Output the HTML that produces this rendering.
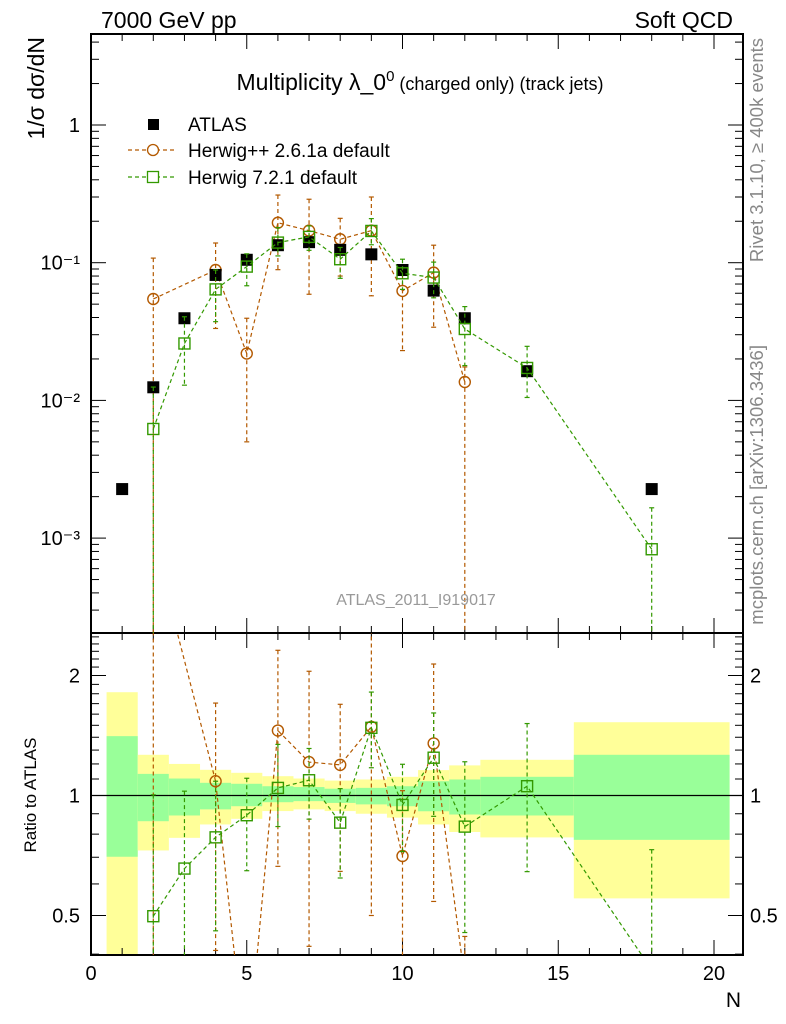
<!DOCTYPE html>
<html><head><meta charset="utf-8"><style>
body{margin:0;background:#fff;}
svg{display:block;font-family:"Liberation Sans",sans-serif;}
</style></head><body>
<svg id="chart" width="786" height="1024" viewBox="0 0 786 1024" xmlns="http://www.w3.org/2000/svg">
<defs>
<clipPath id="clipMain"><rect x="91" y="34" width="652" height="599"/></clipPath>
<clipPath id="clipRatio"><rect x="91" y="633" width="652" height="322"/></clipPath>
</defs>
<g id="bands" clip-path="url(#clipRatio)"></g>
<g id="axes"></g>
<g id="mainData" clip-path="url(#clipMain)"></g>
<g id="ratioData" clip-path="url(#clipRatio)"></g>
<text x="101" y="28" font-size="23">7000 GeV pp</text>
<text x="733" y="28" font-size="23" text-anchor="end">Soft QCD</text>
<text x="420" y="90" font-size="23" text-anchor="middle">Multiplicity λ_0<tspan font-size="15" dy="-9">0</tspan><tspan font-size="18" dy="9"> (charged only) (track jets)</tspan></text>
<text transform="translate(44,37) rotate(-90)" font-size="23" text-anchor="end">1/σ dσ/dN</text>
<text transform="translate(36,795) rotate(-90)" font-size="17" text-anchor="middle">Ratio to ATLAS</text>
<text x="741" y="1007" font-size="21" text-anchor="end">N</text>
<text transform="translate(763,38) rotate(-90)" font-size="18.5" fill="#888" text-anchor="end">Rivet 3.1.10, ≥ 400k events</text>
<text transform="translate(763,345) rotate(-90)" font-size="18.5" fill="#888" text-anchor="end">mcplots.cern.ch [arXiv:1306.3436]</text>
<text x="416" y="605" font-size="16" fill="#999" text-anchor="middle">ATLAS_2011_I919017</text>
<g>
<rect x="148" y="119" width="11" height="11" fill="#000"/>
<text x="188" y="131" font-size="19">ATLAS</text>
<line x1="128" y1="150" x2="175" y2="150" stroke="#b35900" stroke-width="1.2" stroke-dasharray="4,3"/>
<circle cx="153" cy="150" r="5.5" fill="#fff" stroke="#b35900" stroke-width="1.3"/>
<text x="188" y="157" font-size="19">Herwig++ 2.6.1a default</text>
<line x1="128" y1="177" x2="175" y2="177" stroke="#339900" stroke-width="1.2" stroke-dasharray="4,3"/>
<rect x="147.5" y="171.5" width="11" height="11" fill="#fff" stroke="#339900" stroke-width="1.3"/>
<text x="188" y="184" font-size="19">Herwig 7.2.1 default</text>
</g>
</svg>
<script>
const atlasN=[1,2,3,4,5,6,7,8,9,10,11,12,14,18];
const atlasVal=[0.00227,0.01245,0.0395,0.0815,0.105,0.134,0.141,0.124,0.115,0.0885,0.0627,0.0395,0.0163,0.00227];
const binLo=[0.5,1.5,2.5,3.5,4.5,5.5,6.5,7.5,8.5,9.5,10.5,11.5,12.5,15.5];
const binHi=[1.5,2.5,3.5,4.5,5.5,6.5,7.5,8.5,9.5,10.5,11.5,12.5,15.5,20.5];
const yellowUp=[1.816,1.265,1.2,1.16,1.14,1.118,1.103,1.09,1.097,1.114,1.158,1.19,1.229,1.527];
const yellowDn=[0.3,0.728,0.783,0.846,0.874,0.914,0.923,0.914,0.9,0.88,0.846,0.81,0.785,0.552];
const greenUp=[1.409,1.133,1.103,1.076,1.07,1.055,1.05,1.04,1.045,1.055,1.086,1.097,1.114,1.265];
const greenDn=[0.702,0.862,0.891,0.923,0.94,0.962,0.968,0.958,0.95,0.94,0.913,0.896,0.891,0.774];
const hppN=[2,4,5,6,7,8,9,10,11,12];
const hppVal=[0.0545,0.0885,0.0219,0.195,0.171,0.148,0.171,0.0624,0.0847,0.0136];
const hppUp=[0.108,0.139,0.0395,0.31,0.289,0.21,0.3,0.091,0.134,0.0175];
const hppDn=[0,0.0333,0.005,0.089,0.059,0.08,0.0575,0.023,0.034,0];
const h7N=[2,3,4,5,6,7,8,9,10,11,12,14,18];
const h7Val=[0.0062,0.0259,0.064,0.0937,0.14,0.154,0.106,0.17,0.0838,0.078,0.033,0.0172,0.00083];
const h7Up=[0.0125,0.0405,0.0885,0.116,0.18,0.185,0.129,0.209,0.106,0.101,0.048,0.0247,0.00166];
const h7Dn=[0,0.0129,0.0373,0.068,0.112,0.123,0.077,0.135,0.064,0.0556,0.0179,0.0105,0];
const xTickLabels=[0,5,10,15,20];
const mainTickLabels=["10⁻³","10⁻²","10⁻¹","1"];
const ratioTickVals=[0.5,1,2];

const NS="http://www.w3.org/2000/svg";
const X0=91,X1=743,MT=34,MB=633,RB=955;
function xs(v){return 91+v*31.15;}
function ym(v){return v<=0?2000:125-137.7*Math.log10(v);}
function yr(v){return v<=0?2000:795.5-120*Math.log2(v);}
function el(tag,attrs,parent){const e=document.createElementNS(NS,tag);for(const k in attrs)e.setAttribute(k,attrs[k]);parent.appendChild(e);return e;}
const axes=document.getElementById('axes'),bands=document.getElementById('bands'),md=document.getElementById('mainData'),rd=document.getElementById('ratioData');

for(let i=0;i<binLo.length;i++){
  const y=el('rect',{x:xs(binLo[i]),width:xs(binHi[i])-xs(binLo[i]),y:yr(yellowUp[i]),height:yr(yellowDn[i])-yr(yellowUp[i]),fill:'#ffff99'},bands);
  
  
  const g=el('rect',{x:xs(binLo[i]),width:xs(binHi[i])-xs(binLo[i]),y:yr(greenUp[i]),height:yr(greenDn[i])-yr(greenUp[i]),fill:'#99ff99'},bands);
  
  
}
el('line',{x1:X0,x2:X1,y1:yr(1),y2:yr(1),stroke:'#000','stroke-width':1.3},bands);

const f1=el('rect',{x:X0,y:MT,width:X1-X0,height:MB-MT,fill:'none',stroke:'#000','stroke-width':2},axes);


const f2=el('rect',{x:X0,y:MB,width:X1-X0,height:RB-MB,fill:'none',stroke:'#000','stroke-width':2},axes);



for(let v=0;v<=20.8;v+=1){
  const major=v%5===0,len=major?15:7,x=xs(v);
  for(const [yb,dir] of [[MB,-1],[MT,1],[RB,-1],[MB,1]]){
    el('line',{x1:x,x2:x,y1:yb,y2:yb+dir*len,stroke:'#000','stroke-width':1},axes);
  }
}
xTickLabels.forEach(v=>{
  const t=el('text',{x:xs(v),y:980,'font-size':20,'text-anchor':'middle'},axes);t.textContent=v;
  
  
});
for(let d=-4;d<=0;d++){
  for(let m=1;m<=9;m++){
    const v=m*Math.pow(10,d),y=ym(v);
    if(y<MT||y>MB)continue;
    const len=m===1?15:8;
    el('line',{x1:X0,x2:X0+len,y1:y,y2:y,stroke:'#000'},axes);
    el('line',{x1:X1,x2:X1-len,y1:y,y2:y,stroke:'#000'},axes);
  }
}
mainTickLabels.forEach((s,i)=>{
  const t=el('text',{x:80,y:ym(Math.pow(10,i-3))+7,'font-size':20,'text-anchor':'end'},axes);
  t.textContent=s;
  
  
});
const rminor=[0.4,0.5,0.6,0.7,0.8,0.9,1,1.1,1.2,1.3,1.4,1.5,1.6,1.7,1.8,1.9,2,2.1,2.2,2.3,2.4,2.5];
rminor.forEach(v=>{const y=yr(v);if(y<MB||y>RB)return;const len=ratioTickVals.includes(v)?15:8;
  el('line',{x1:X0,x2:X0+len,y1:y,y2:y,stroke:'#000'},axes);
  el('line',{x1:X1,x2:X1-len,y1:y,y2:y,stroke:'#000'},axes);});
ratioTickVals.forEach(v=>{
  const t=el('text',{x:80,y:yr(v)+7,'font-size':20,'text-anchor':'end'},axes);t.textContent=v;
  
  
  const t2=el('text',{x:750,y:yr(v)+7,'font-size':20},axes);t2.textContent=v;
  
  
});

function atlasAt(n){return atlasVal[atlasN.indexOf(n)];}
function drawSeries(parent,Ns,vals,ups,dns,color,shape,yf,ratio,name){
  const pts=Ns.map((n,i)=>[xs(n),yf(ratio?vals[i]/atlasAt(n):vals[i])]);
  const pl=el('polyline',{points:pts.map(p=>p.join(',')).join(' '),fill:'none',stroke:color,'stroke-width':1.2,'stroke-dasharray':'4,3'},parent);
  
  
  Ns.forEach((n,i)=>{
    const d=ratio?atlasAt(n):1,x=xs(n);
    const yu=yf(ups[i]/d),yd=Math.min(yf(dns[i]/d),1000);
    el('line',{x1:x,x2:x,y1:yu,y2:yd,stroke:color,'stroke-width':1.2,'stroke-dasharray':'4,3'},parent);
    el('line',{x1:x-2.5,x2:x+2.5,y1:yu,y2:yu,stroke:color,'stroke-width':1.2},parent);
    el('line',{x1:x-2.5,x2:x+2.5,y1:yd,y2:yd,stroke:color,'stroke-width':1.2},parent);
    const y=pts[i][1];let m;
    if(shape==='circle')m=el('circle',{cx:x,cy:y,r:5.5,fill:'none',stroke:color,'stroke-width':1.4},parent);
    else m=el('rect',{x:x-5.5,y:y-5.5,width:11,height:11,fill:'none',stroke:color,'stroke-width':1.4},parent);
    
    
  });
}
drawSeries(md,hppN,hppVal,hppUp,hppDn,'#b35900','circle',ym,false,'herwigpp');
atlasN.forEach((n,i)=>{
  const r=el('rect',{x:xs(n)-6,y:ym(atlasVal[i])-6,width:12,height:12,fill:'#000'},md);
  
  
});
drawSeries(md,h7N,h7Val,h7Up,h7Dn,'#339900','square',ym,false,'herwig7');
drawSeries(rd,hppN,hppVal,hppUp,hppDn,'#b35900','circle',yr,true,'ratio-herwigpp');
drawSeries(rd,h7N,h7Val,h7Up,h7Dn,'#339900','square',yr,true,'ratio-herwig7');
</script>
</body></html>
